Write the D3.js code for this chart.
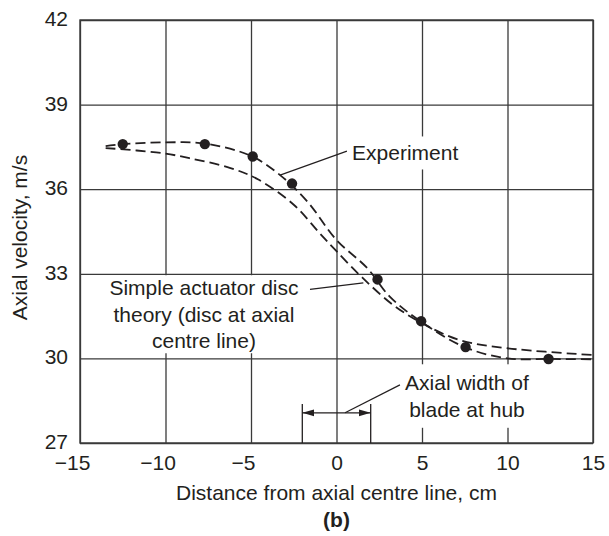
<!DOCTYPE html>
<html><head><meta charset="utf-8">
<script src="https://cdn.jsdelivr.net/npm/d3@7"></script>
<style>
html,body{margin:0;padding:0;background:#fff;}
svg{display:block;font-family:"Liberation Sans",Arial,Helvetica,sans-serif;}
</style></head>
<body><svg id="c" width="609" height="536"></svg>
<script>
// ---- data ----
const xTicks = [-15, -10, -5, 0, 5, 10, 15];
const yTicks = [27, 30, 33, 36, 39, 42];
const experimentPoints = [[-12.5,37.6],[-7.7,37.6],[-4.9,37.16],[-2.6,36.2],[2.4,32.8],[4.95,31.32],[7.55,30.4],[12.4,29.98]];
const experimentCurve = [[-13.5,37.53],[-12.5,37.6],[-10,37.66],[-7.7,37.62],[-5,37.18],[-3.3,36.5],[-1.7,35.56],[0,34.2],[1.8,33.2],[3.1,32.2],[4.9,31.32],[7.5,30.4],[10,30.0],[12.5,29.98],[15,29.97]];
const theoryCurve = [[-13.5,37.46],[-10.2,37.28],[-8.6,37.1],[-6.2,36.75],[-4.6,36.35],[-2.5,35.45],[-1,34.45],[0,33.8],[1.5,32.87],[3.3,31.9],[5,31.25],[7.2,30.65],[10,30.36],[15,30.12]];
const bladeWidth = [-2, 2];
const xTitle = "Distance from axial centre line, cm";
const yTitle = "Axial velocity, m/s";
const panelLabel = "(b)";
const expLabel = ["Experiment"];
const theoryLabel = ["Simple actuator disc", "theory (disc at axial", "centre line)"];
const bladeLabel = ["Axial width of", "blade at hub"];

// ---- layout ----
const L = 80, R = 593, T = 20, B = 443;
const FS = "21px";
const ink = "#231f20", grid = "#3a3a3a";
const svg = d3.select("#c");
const x = d3.scaleLinear().domain([-15, 15]).range([L, R]);
const y = d3.scaleLinear().domain([27, 42]).range([B, T]);
const fmt = d => d < 0 ? "\u2212" + Math.abs(d) : String(d);

// axes with gridlines
const gx = svg.append("g").attr("transform", `translate(0,${B})`)
  .call(d3.axisBottom(x).tickValues(xTicks).tickSize(-(B - T)).tickPadding(12).tickFormat(fmt));
const gy = svg.append("g").attr("transform", `translate(${L},0)`)
  .call(d3.axisLeft(y).tickValues(yTicks).tickSize(-(R - L)).tickPadding(12).tickFormat(fmt));
[gx, gy].forEach(g => {
  g.select(".domain").remove();
  g.selectAll(".tick line").attr("stroke", grid).attr("stroke-width", 1.3);
  g.selectAll(".tick text").attr("fill", ink).style("font-size", FS);
});
// digits centred on the tick, minus sign hanging to the left
gx.selectAll(".tick text").attr("dy", "0.71em").attr("dx", d => d < 0 ? "-0.38em" : 0);
gy.selectAll(".tick text").attr("dy", "0.26em");

svg.append("rect").attr("x", L).attr("y", T).attr("width", R - L).attr("height", B - T)
  .attr("fill", "none").attr("stroke", grid).attr("stroke-width", 1.4);

// text with white background boxes
function label(lines, cx, cy, anchor, padX, padY) {
  const g = svg.append("g");
  const t = g.append("text").attr("fill", ink).style("font-size", FS).attr("text-anchor", anchor);
  lines.forEach((s, i) => t.append("tspan").attr("x", cx).attr("y", cy + i * 26.5).attr("dy", "0.35em").text(s));
  const bb = t.node().getBBox();
  g.insert("rect", "text").attr("x", bb.x - padX).attr("y", bb.y - padY)
    .attr("width", bb.width + 2 * padX).attr("height", bb.height + 2 * padY).attr("fill", "#fff");
}
label(expLabel, x(0.91), y(37.28), "start", 3, 5);
label(theoryLabel, x(-7.75), y(32.5), "middle", 4, 1);
label(bladeLabel, x(7.63), y(29.13), "middle", 6, 7);

// curves
const line = d3.line().x(d => x(d[0])).y(d => y(d[1])).curve(d3.curveCatmullRom.alpha(0.5));
[experimentCurve, theoryCurve].forEach(c => {
  svg.append("path").attr("d", line(c)).attr("fill", "none").attr("stroke", ink)
    .attr("stroke-width", 1.8).attr("stroke-dasharray", "10,5");
});

// experimental points
svg.append("g").selectAll("circle").data(experimentPoints).join("circle")
  .attr("cx", d => x(d[0])).attr("cy", d => y(d[1])).attr("r", 5.2).attr("fill", ink);

// leader lines
const leaders = [
  [[-3.3, 36.5], [0.61, 37.35]],
  [[-1.55, 32.45], [1.57, 32.68]],
  [[0.5, 28.07], [3.71, 29.06]]
];
leaders.forEach(l => svg.append("line")
  .attr("x1", x(l[0][0])).attr("y1", y(l[0][1])).attr("x2", x(l[1][0])).attr("y2", y(l[1][1]))
  .attr("stroke", ink).attr("stroke-width", 1.2));

// blade width markers
bladeWidth.forEach(v => svg.append("line").attr("x1", x(v)).attr("x2", x(v))
  .attr("y1", y(27)).attr("y2", y(28.38)).attr("stroke", ink).attr("stroke-width", 1.3));
svg.append("defs").append("marker").attr("id", "ah").attr("viewBox", "0 0 12 8")
  .attr("refX", 12).attr("refY", 4).attr("markerWidth", 12).attr("markerHeight", 8)
  .attr("markerUnits", "userSpaceOnUse").attr("orient", "auto-start-reverse")
  .append("path").attr("d", "M0,0.5 L12,4 L0,7.5 Z").attr("fill", ink);
svg.append("line").attr("x1", x(bladeWidth[0])).attr("x2", x(bladeWidth[1]))
  .attr("y1", y(28.07)).attr("y2", y(28.07)).attr("stroke", ink).attr("stroke-width", 1.3)
  .attr("marker-start", "url(#ah)").attr("marker-end", "url(#ah)");

// titles
svg.append("text").attr("x", (L + R) / 2).attr("y", 500).attr("text-anchor", "middle")
  .attr("fill", ink).style("font-size", FS).text(xTitle);
svg.append("text").attr("transform", `translate(27,${(T + B) / 2 + 6}) rotate(-90)`).attr("text-anchor", "middle")
  .attr("fill", ink).style("font-size", FS).text(yTitle);
svg.append("text").attr("x", (L + R) / 2).attr("y", 527).attr("text-anchor", "middle")
  .attr("fill", ink).style("font-size", FS).style("font-weight", "bold").text(panelLabel);
</script></body></html>
